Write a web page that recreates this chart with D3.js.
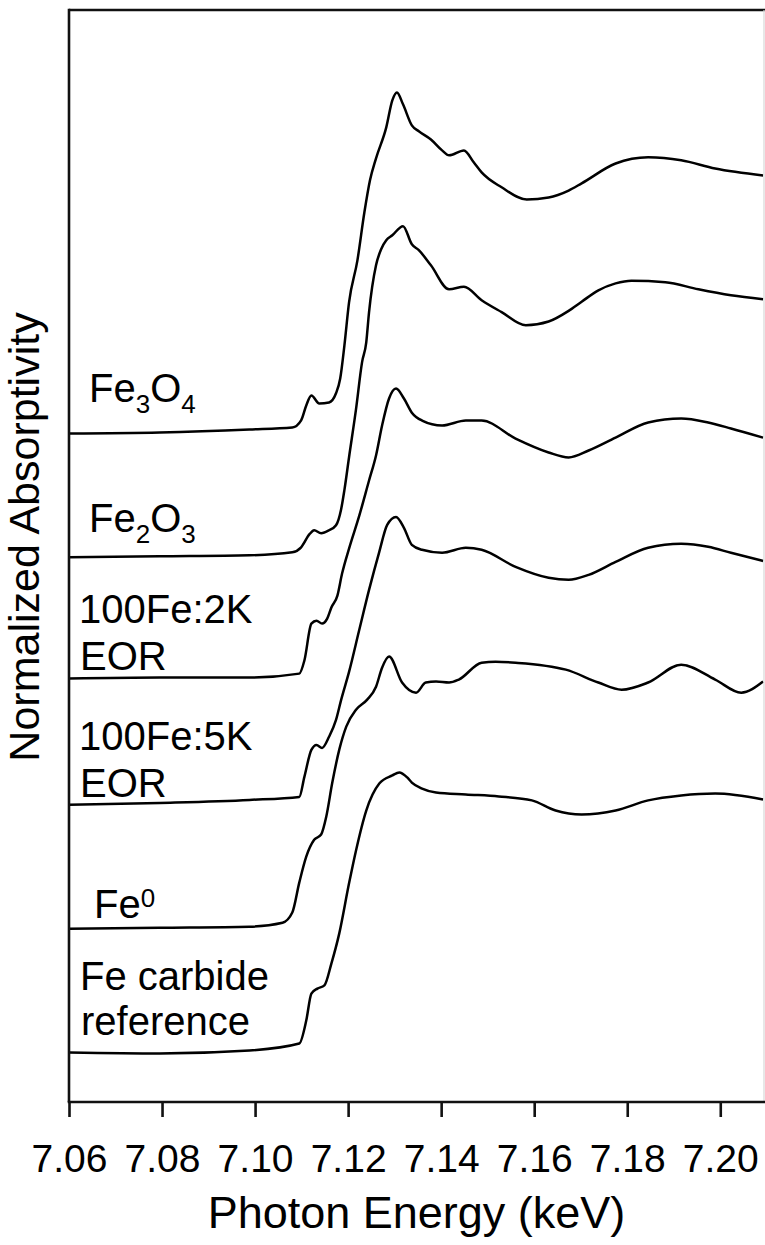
<!DOCTYPE html>
<html><head><meta charset="utf-8">
<script src="https://cdn.jsdelivr.net/npm/d3@7"></script>
<style>body{margin:0;background:#fff}svg{display:block}</style>
</head><body>
<svg id="chart" width="765" height="1245"></svg>
<script>
// ---- data ----
const xTicks = [7.06, 7.08, 7.10, 7.12, 7.14, 7.16, 7.18, 7.20];
const seriesNames = ["Fe3O4", "Fe2O3", "100Fe:2K EOR", "100Fe:5K EOR", "Fe0", "Fe carbide reference"];
const offsets = [2.5, 2.0, 1.51, 1.0, 0.5, 0];

const fe3o4Energy = [7.0600,7.0795,7.0988,7.1080,7.1099,7.1110,7.1121,7.1138,7.1159,7.1174,7.1183,7.1192,7.1202,7.1220,7.1235,7.1247,7.1260,7.1282,7.1295,7.1305,7.1318,7.1337,7.1352,7.1378,7.1402,7.1417,7.1449,7.1470,7.1487,7.1530,7.1584,7.1631,7.1674,7.1702,7.1775,7.1845,7.1916,7.1989,7.2092];
const fe3o4Mu = [0.000,0.004,0.016,0.024,0.053,0.113,0.153,0.121,0.125,0.162,0.222,0.355,0.529,0.699,0.893,1.022,1.111,1.236,1.345,1.377,1.329,1.244,1.220,1.187,1.143,1.123,1.143,1.095,1.054,0.994,0.945,0.953,0.981,1.010,1.090,1.115,1.103,1.070,1.042];

const fe2o3Energy = [7.0600,7.0795,7.0988,7.1080,7.1099,7.1117,7.1127,7.1142,7.1159,7.1174,7.1185,7.1192,7.1202,7.1217,7.1230,7.1239,7.1245,7.1260,7.1271,7.1282,7.1295,7.1318,7.1337,7.1352,7.1378,7.1417,7.1449,7.1487,7.1530,7.1582,7.1631,7.1674,7.1702,7.1738,7.1775,7.1809,7.1882,7.1953,7.2023,7.2092];
const fe2o3Mu = [0.000,0.004,0.008,0.020,0.040,0.093,0.109,0.097,0.109,0.129,0.194,0.271,0.404,0.598,0.788,0.868,0.990,1.179,1.244,1.280,1.300,1.337,1.264,1.240,1.179,1.082,1.092,1.038,0.990,0.937,0.952,0.995,1.032,1.078,1.106,1.117,1.111,1.082,1.058,1.042];

const k2Energy = [7.0600,7.0795,7.0988,7.1095,7.1106,7.1121,7.1132,7.1144,7.1155,7.1164,7.1177,7.1187,7.1202,7.1224,7.1245,7.1260,7.1273,7.1288,7.1303,7.1320,7.1337,7.1359,7.1402,7.1453,7.1487,7.1560,7.1631,7.1674,7.1717,7.1775,7.1845,7.1916,7.1974,7.2023,7.2092];
const k2Mu = [0.000,0.004,0.004,0.020,0.073,0.222,0.234,0.222,0.242,0.287,0.335,0.424,0.525,0.658,0.800,0.901,1.022,1.131,1.171,1.131,1.074,1.042,1.022,1.042,1.042,0.969,0.913,0.893,0.921,0.973,1.034,1.050,1.034,1.010,0.973];

const k5Energy = [7.0600,7.0795,7.0988,7.1095,7.1106,7.1121,7.1132,7.1144,7.1159,7.1174,7.1185,7.1202,7.1224,7.1245,7.1267,7.1284,7.1303,7.1320,7.1337,7.1359,7.1402,7.1453,7.1487,7.1560,7.1631,7.1674,7.1717,7.1775,7.1845,7.1916,7.1974,7.2023,7.2092];
const k5Mu = [0.000,0.008,0.020,0.032,0.113,0.222,0.242,0.230,0.275,0.343,0.424,0.537,0.707,0.868,1.022,1.131,1.163,1.119,1.050,1.030,1.018,1.038,1.030,0.961,0.917,0.909,0.929,0.981,1.038,1.054,1.042,1.018,0.985];

const fe0Energy = [7.0600,7.0795,7.0988,7.1059,7.1080,7.1095,7.1110,7.1127,7.1142,7.1153,7.1166,7.1181,7.1196,7.1217,7.1241,7.1260,7.1273,7.1288,7.1316,7.1346,7.1367,7.1389,7.1417,7.1438,7.1487,7.1517,7.1560,7.1668,7.1738,7.1788,7.1845,7.1916,7.1989,7.2045,7.2092];
const fe0Mu = [0.000,0.004,0.008,0.024,0.065,0.186,0.291,0.359,0.380,0.452,0.590,0.723,0.816,0.884,0.925,0.977,1.054,1.099,0.994,0.953,0.994,0.998,0.994,1.006,1.074,1.078,1.074,1.046,0.994,0.965,0.994,1.066,1.006,0.953,0.998];

const carbideEnergy = [7.0600,7.0795,7.0988,7.1095,7.1110,7.1121,7.1134,7.1149,7.1164,7.1181,7.1202,7.1217,7.1239,7.1267,7.1295,7.1310,7.1327,7.1337,7.1359,7.1389,7.1453,7.1524,7.1595,7.1646,7.1702,7.1775,7.1845,7.1916,7.1989,7.2092];
const carbideMu = [0.000,-0.004,0.008,0.036,0.129,0.238,0.258,0.271,0.359,0.481,0.683,0.816,0.977,1.086,1.119,1.131,1.111,1.090,1.066,1.050,1.042,1.034,1.018,0.977,0.961,0.977,1.018,1.038,1.046,1.022];

(function () {
const energies = [fe3o4Energy, fe2o3Energy, k2Energy, k5Energy, fe0Energy, carbideEnergy];
const mus = [fe3o4Mu, fe2o3Mu, k2Mu, k5Mu, fe0Mu, carbideMu];

const svg = d3.select("#chart");
const mL = 69, mR = 764, mT = 10, mB = 1102;
const x = d3.scaleLinear().domain([7.06, 7.2094]).range([mL, mR]);
const y = d3.scaleLinear().domain([-0.2, 4.21]).range([mB, mT]);
const font = "'Liberation Sans', Arial, Helvetica, sans-serif";

svg.append("defs").append("clipPath").attr("id", "clip")
  .append("rect").attr("x", mL).attr("y", mT).attr("width", mR - mL + 2).attr("height", mB - mT);

const line = d3.line().x(d => x(d[0])).y(d => y(d[1])).curve(d3.curveMonotoneX);
const g = svg.append("g").attr("clip-path", "url(#clip)");
energies.forEach((en, i) => {
  const pts = en.map((e, j) => [e, mus[i][j] + offsets[i]]);
  g.append("path").datum(pts).attr("d", line)
    .attr("fill", "none").attr("stroke", "#000").attr("stroke-width", 2.5)
    .attr("stroke-linejoin", "round");
});

// frame
svg.append("line").attr("x1", mL).attr("x2", 765).attr("y1", mT).attr("y2", mT)
  .attr("stroke", "#111").attr("stroke-width", 2.6);
svg.append("line").attr("x1", mL).attr("x2", mL).attr("y1", mT - 1.3).attr("y2", mB)
  .attr("stroke", "#111").attr("stroke-width", 2.6);
svg.append("line").attr("x1", mR).attr("x2", mR).attr("y1", mT).attr("y2", mB)
  .attr("stroke", "#d8d8d8").attr("stroke-width", 1.2);

// bottom axis
const ax = svg.append("g").attr("transform", `translate(0,${mB})`)
  .call(d3.axisBottom(x).tickValues(xTicks).tickFormat(d3.format(".2f")).tickSize(15).tickPadding(27));
ax.select(".domain").attr("stroke", "#111").attr("stroke-width", 2.6)
  .attr("d", `M${mL - 1.3},0H765`);
ax.selectAll(".tick line").attr("stroke", "#111").attr("stroke-width", 2.6);
ax.selectAll(".tick text").attr("font-family", font).attr("font-size", 39).attr("fill", "#000");

// axis titles
svg.append("text").attr("x", (mL + mR) / 2).attr("y", 1228).attr("text-anchor", "middle")
  .attr("font-family", font).attr("font-size", 45).text("Photon Energy (keV)");
svg.append("text").attr("transform", "translate(39,537) rotate(-90)").attr("text-anchor", "middle")
  .attr("font-family", font).attr("font-size", 43).text("Normalized Absorptivity");

// curve labels
const labelParts = [
  {x: 89, y: 402, parts: [["Fe", 0], ["3", 1], ["O", 0], ["4", 1]]},
  {x: 89, y: 532, parts: [["Fe", 0], ["2", 1], ["O", 0], ["3", 1]]},
  {x: 79, y: 623, parts: [["100Fe:2K", 0]]},
  {x: 80, y: 670, parts: [["EOR", 0]]},
  {x: 79, y: 750, parts: [["100Fe:5K", 0]]},
  {x: 80, y: 797, parts: [["EOR", 0]]},
  {x: 94, y: 918, parts: [["Fe", 0], ["0", -1]]},
  {x: 80, y: 990, parts: [["Fe carbide", 0]]},
  {x: 81, y: 1035, parts: [["reference", 0]]}
];
labelParts.forEach(L => {
  const t = svg.append("text").attr("x", L.x).attr("y", L.y)
    .attr("font-family", font).attr("font-size", 40).attr("fill", "#000");
  let shift = 0;
  L.parts.forEach(([s, mode]) => {
    const target = mode === 1 ? 11 : mode === -1 ? -11 : 0;
    t.append("tspan").attr("dy", target - shift).attr("font-size", mode === 0 ? 40 : 26).text(s);
    shift = target;
  });
});
})();
</script>
</body></html>
